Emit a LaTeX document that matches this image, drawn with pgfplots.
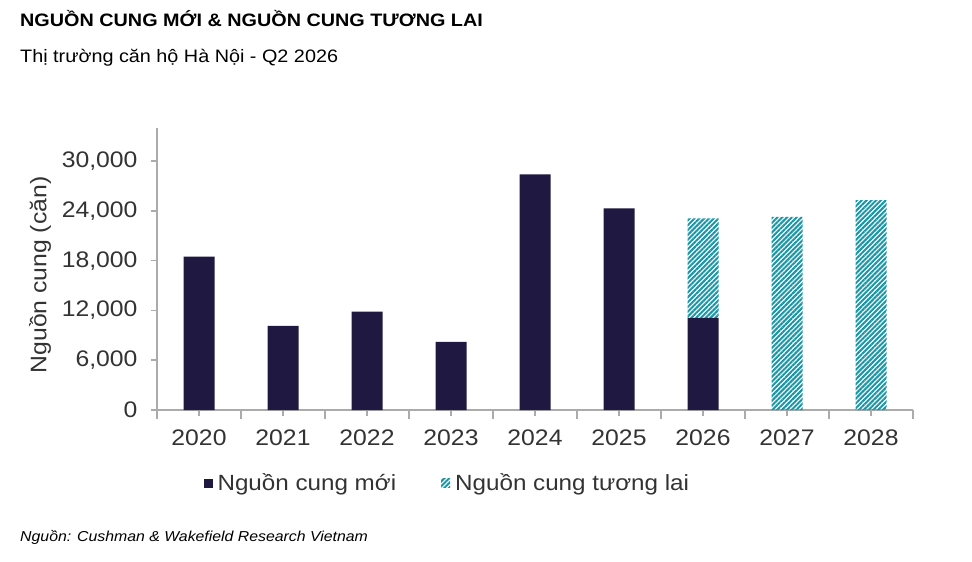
\documentclass[border=0pt]{standalone}
\usepackage{pgfplots}
\pgfplotsset{compat=1.18}
\usetikzlibrary{patterns.meta}
\usepackage{fontspec}
\setmainfont{Liberation Sans}[FakeStretch=1.1]
\definecolor{navy}{HTML}{1F1941}
\definecolor{teal2}{HTML}{1796A8}
\definecolor{axgray}{HTML}{ABABAB}
\definecolor{txt}{HTML}{333333}
\begin{document}
\begin{tikzpicture}
\useasboundingbox (0,0) rectangle (972pt,-562pt);
\node[anchor=base west, inner sep=0, font=\fontsize{18}{21}\selectfont\bfseries] at (20pt,-27pt) {NGUỒN CUNG MỚI \& NGUỒN CUNG TƯƠNG LAI};
\node[anchor=base west, inner sep=0, font=\fontsize{18}{21}\selectfont] at (20pt,-62pt) {Thị trường căn hộ Hà Nội - Q2 2026};
\node[anchor=base west, inner sep=0, font=\fontsize{14.4}{17}\selectfont\itshape] at (20pt,-541pt) {Nguồn: Cushman \& Wakefield Research Vietnam};
\node[rotate=90, inner sep=0, text=txt, font=\fontsize{22.5}{26}\selectfont] at (40pt,-275pt) {Nguồn cung (căn)};
\begin{axis}[
 at={(157pt,-410pt)}, anchor=south west,
 scale only axis, width=756pt, height=282pt,
 xmin=-0.5, xmax=8.5, ymin=0, ymax=34000,
 ybar stacked, bar width=31pt,
 axis x line*=bottom, axis y line*=left,
 axis line style={axgray, line width=1.5pt, -},
 xtick={0,1,2,3,4,5,6,7,8},
 xticklabels={2020,2021,2022,2023,2024,2025,2026,2027,2028},
 minor xtick={-0.5,0.5,1.5,2.5,3.5,4.5,5.5,6.5,7.5,8.5},
 ytick={0,6000,12000,18000,24000,30000},
 scaled y ticks=false,
 tick align=outside,
 major tick length=6pt, minor tick length=9pt,
 every tick/.style={axgray, line width=1.5pt},
 tick label style={text=txt, font=\fontsize{22.5}{26}\selectfont},
 yticklabel style={xshift=-10pt, /pgf/number format/.cd, fixed, 1000 sep={,}, assume math mode=true},
 xticklabel style={yshift=-10pt},
 legend columns=2,
 legend style={draw=none, at={(0.386,-0.259)}, anchor=center,
   font=\fontsize{22}{26}\selectfont, text=txt,
   nodes={inner xsep=5pt},
   /tikz/every even column/.append style={column sep=40pt}},
 legend image code/.code={\fill[#1] (0pt,-4.5pt) rectangle (9pt,4.5pt);},
 clip=false,
]
\addplot[draw=none, fill=navy] coordinates {(0,18500) (1,10150) (2,11850) (3,8200) (4,28400) (5,24300) (6,11100) (7,0) (8,0)};
\addlegendentry{Nguồn cung mới}
\addplot[draw=none, pattern={Lines[angle=45,distance=3.4pt,line width=2pt]}, pattern color=teal2] coordinates {(0,0) (1,0) (2,0) (3,0) (4,0) (5,0) (6,12000) (7,23300) (8,25300)};
\addlegendentry{Nguồn cung tương lai}
\end{axis}
\end{tikzpicture}
\end{document}
